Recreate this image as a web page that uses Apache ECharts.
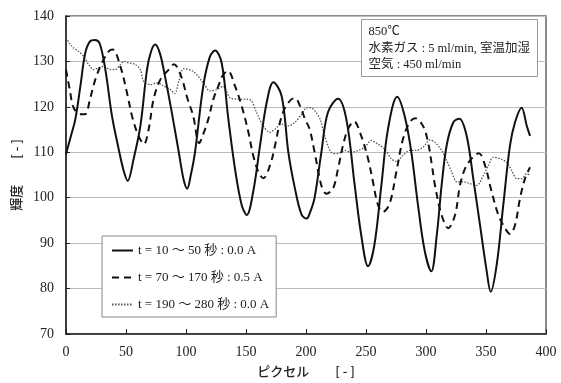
<!DOCTYPE html>
<html>
<head>
<meta charset="utf-8">
<script src="https://cdn.jsdelivr.net/npm/echarts@6/dist/echarts.min.js"></script>
<style>
  html, body { margin: 0; padding: 0; background: #fff; }
  #chart { width: 561px; height: 383px; }
</style>
</head>
<body>
<div id="chart"></div>
<script>
// Brightness profiles along the pixel line for three time windows
const seriesNames = [
  't = 10 ～ 50 秒 : 0.0 A',
  't = 70 ～ 170 秒 : 0.5 A',
  't = 190 ～ 280 秒 : 0.0 A'
];

const pixA = [0, 4, 7.8, 12, 16, 20, 24, 28, 32.8, 38.3, 43.9, 48, 51.4, 56.4, 62, 67.5, 71, 74.4, 78, 81.4, 88, 94, 98, 101, 104,
  107.5, 114.4, 120, 124.2, 129.7, 135.3, 140.8, 146.4, 150.6, 156, 161.7, 167.2, 172.8, 179.7, 185.3, 190.8, 196.4, 200.6, 203,
  207, 212.8, 218.3, 226.7, 233.6, 240.6, 246, 251.7, 257, 262.8, 268.3, 276, 282.2, 287.8, 293.3, 299, 304.4, 309, 313, 317.2,
  322.8, 327.8, 333.9, 339.4, 345, 350.6, 353.9, 358.9, 364.4, 370, 374.2, 379.7, 384, 386.7];
const lumA = [109.6, 113.5, 117.3, 124.6, 131.8, 134.4, 134.7, 134.0, 128.2, 118, 110.7, 106, 103.7, 108.6, 115.8, 128.2, 132.3, 133.7, 132, 128.2, 119, 110, 104, 102, 105,
  110, 124.6, 131.1, 132.4, 129.7, 117.3, 106.4, 98.4, 96.2, 101.3, 111.5, 120.9, 125.4, 122.4, 110, 102, 96.2, 95.4, 96.5,
  99.8, 110, 118.8, 121.8, 117.3, 102.7, 91.8, 84.9, 89.6, 102.7, 115.1, 122.2, 118, 110, 98.4, 88.2, 83.8, 91.8, 102.7, 111.5,
  116.6, 117.4, 113.6, 104.2, 94, 83.8, 79.3, 85.2, 98.4, 111.5, 116.6, 119.8, 115.8, 113.6];

const pixB = [0, 3, 6.4, 12, 16, 20, 24.4, 30, 35.6, 39, 45.3, 50.8, 55, 59.2, 63.3, 65, 68.9, 73, 78.6, 85.6, 90, 96, 101, 106, 111,
  114.4, 118.6, 122.8, 127, 131, 135, 140.8, 146.4, 152, 156, 160.3, 164.4, 170, 174.2, 178.3, 182.5, 188, 191, 195, 199.2, 203,
  207.2, 212.8, 217, 222.5, 226.7, 230.8, 235, 240, 246, 251.7, 255.8, 260, 264.2, 269.7, 275.3, 280.8, 286.4, 291, 297.5, 301.7,
  305, 307.5, 313, 318.6, 324.2, 328.3, 332.5, 338, 344, 349.2, 354.7, 360.3, 365.8, 370, 374.2, 378.3, 382.5, 386.7];
const lumB = [128.2, 124, 119.8, 118.4, 118.4, 121.7, 126, 129.7, 132.2, 132.6, 128.9, 123.1, 118, 114.4, 112.2, 111.8, 115.1, 121.7, 126, 128.2, 129.4, 126.7, 122, 118, 112,
  114, 117.3, 121.7, 124.6, 127.1, 127.9, 124.6, 120.2, 114.4, 109.3, 105.7, 104.3, 107.1, 111.5, 116.6, 119.8, 121.7, 121.9, 120.2, 117.3, 115.1,
  110, 102.7, 100.9, 102, 106.4, 111.5, 115.1, 116.8, 113.6, 108.6, 103.5, 98.4, 96.9, 98.7, 105.7, 112.9, 116.6, 117.5, 115.8, 112.2,
  107, 102.7, 96.2, 93.3, 96.2, 102.7, 106.4, 108.6, 109.8, 107.1, 101.3, 96.2, 93.3, 92, 94, 99.8, 104.2, 106.7];

const pixC = [0, 5, 10.6, 14.7, 18.9, 23, 27.2, 31.4, 37, 41, 45.3, 48, 52.2, 57.8, 62, 64.7, 70.3, 75.8, 81.4, 86.9, 90.6, 94, 98,
  106, 114.4, 120, 125.6, 131, 136.7, 145, 150.6, 154.7, 158.9, 164.4, 170, 174.2, 179.7, 185.3, 190.8, 196.4, 200.6, 204, 207.5,
  211.7, 215.6, 221, 226.7, 232.2, 237.8, 243.3, 249, 254.4, 260, 265.6, 271, 275.3, 280.8, 286.4, 292, 297.5, 303.3, 307.5, 313,
  317.2, 321.4, 325.6, 331, 336.7, 342.2, 347.8, 352, 356, 361.7, 367.2, 371.4, 375.6, 379.7, 384, 386.7];
const lumC = [135.2, 133.3, 132.2, 131.1, 129.3, 128.2, 128.6, 128.9, 128.2, 128.2, 129.3, 130, 129.7, 129.3, 128.2, 125.6, 124.9, 125.3, 124.6, 123.8, 122.9, 125.6, 128.4,
  127.8, 125.3, 123.5, 123.8, 124.5, 122, 121.7, 121.7, 121.3, 118.7, 115.8, 114.4, 115.1, 116.2, 115.8, 116.6, 118.4, 119.8, 119.8, 119.1,
  117.3, 113.6, 110, 109.7, 110.4, 110, 110.4, 111.1, 112.6, 111.8, 110.7, 108.6, 108, 109.3, 110.4, 110.4, 111.1, 112.7, 112.2, 110.4,
  108.2, 105.7, 103.5, 103.5, 103.1, 102.7, 104.9, 107.1, 108.9, 108.6, 107.8, 106, 104.2, 104.2, 105.3, 104.9];

const xTicks = { min: 0, max: 400, step: 50 };
const yTicks = { min: 70, max: 140, step: 10 };

const noteLines = ['850℃', '水素ガス : 5 ml/min, 室温加湿', '空気 : 450 ml/min'];

const pair = (xs, ys) => xs.map((x, i) => [x, ys[i]]);

const serif = '"Liberation Serif", "Noto Sans CJK JP", serif';
const gothic = '"Noto Sans CJK JP", sans-serif';

const chart = echarts.init(document.getElementById('chart'), null, { renderer: 'canvas' });

chart.setOption({
  animation: false,
  backgroundColor: '#fff',
  color: ['#111', '#111', '#555'],
  grid: {
    left: 66, right: 15, top: 16, bottom: 47,
    show: true, borderColor: '#666', borderWidth: 1.5, backgroundColor: 'transparent'
  },
  xAxis: {
    type: 'value',
    min: xTicks.min, max: xTicks.max, interval: xTicks.step,
    name: 'ピクセル　　[ - ]',
    nameLocation: 'middle', nameGap: 31,
    nameTextStyle: { fontFamily: gothic, fontSize: 13, color: '#222', fontWeight: 500 },
    axisLine: { show: true, lineStyle: { color: '#222', width: 1.5 } },
    axisTick: { show: true, inside: true, length: 5, lineStyle: { color: '#222' } },
    axisLabel: { fontFamily: serif, fontSize: 14, color: '#222', margin: 11 },
    splitLine: { show: false }
  },
  yAxis: {
    type: 'value',
    min: yTicks.min, max: yTicks.max, interval: yTicks.step,
    name: '輝度　　[ - ]',
    nameLocation: 'middle', nameGap: 31, nameRotate: 90,
    nameTextStyle: { fontFamily: gothic, fontSize: 13, color: '#222', fontWeight: 500 },
    axisLine: { show: true, lineStyle: { color: '#222', width: 1.5 } },
    axisTick: { show: true, inside: true, length: 4, lineStyle: { color: '#222' } },
    axisLabel: { fontFamily: serif, fontSize: 14, color: '#222', margin: 12 },
    splitLine: { show: true, lineStyle: { color: '#bdbdbd', width: 1 } }
  },
  legend: {
    orient: 'vertical',
    left: 102, top: 236,
    padding: [8, 7, 6, 9],
    itemGap: 14,
    itemWidth: 21, itemHeight: 10,
    backgroundColor: '#fff',
    borderColor: '#888', borderWidth: 1,
    itemStyle: { opacity: 0 },
    textStyle: { fontFamily: serif, fontSize: 13, color: '#222' },
    data: seriesNames
  },
  graphic: [
    {
      type: 'group', left: 361, top: 19, z: 100,
      children: [
        { type: 'rect', z: 100, shape: { x: 0, y: 0, width: 176, height: 57 },
          style: { fill: '#fff', stroke: '#999', lineWidth: 1 } },
        ...noteLines.map((t, i) => ({
          type: 'text', z: 101, left: 7, top: 6 + i * 16.5,
          style: { text: t, font: '12.5px ' + serif, fill: '#222' }
        }))
      ]
    }
  ],
  series: [
    {
      name: seriesNames[0], type: 'line', data: pair(pixA, lumA),
      smooth: 0.35, showSymbol: false, symbol: 'none',
      lineStyle: { color: '#111', width: 2, type: 'solid' }, z: 5
    },
    {
      name: seriesNames[1], type: 'line', data: pair(pixB, lumB),
      smooth: 0.35, showSymbol: false, symbol: 'none',
      lineStyle: { color: '#111', width: 2, type: [7, 5] }, z: 4
    },
    {
      name: seriesNames[2], type: 'line', data: pair(pixC, lumC),
      smooth: 0.3, showSymbol: false, symbol: 'none',
      lineStyle: { color: '#555', width: 1.3, type: [1.5, 1.5] }, z: 3
    }
  ]
});
</script>
</body>
</html>
